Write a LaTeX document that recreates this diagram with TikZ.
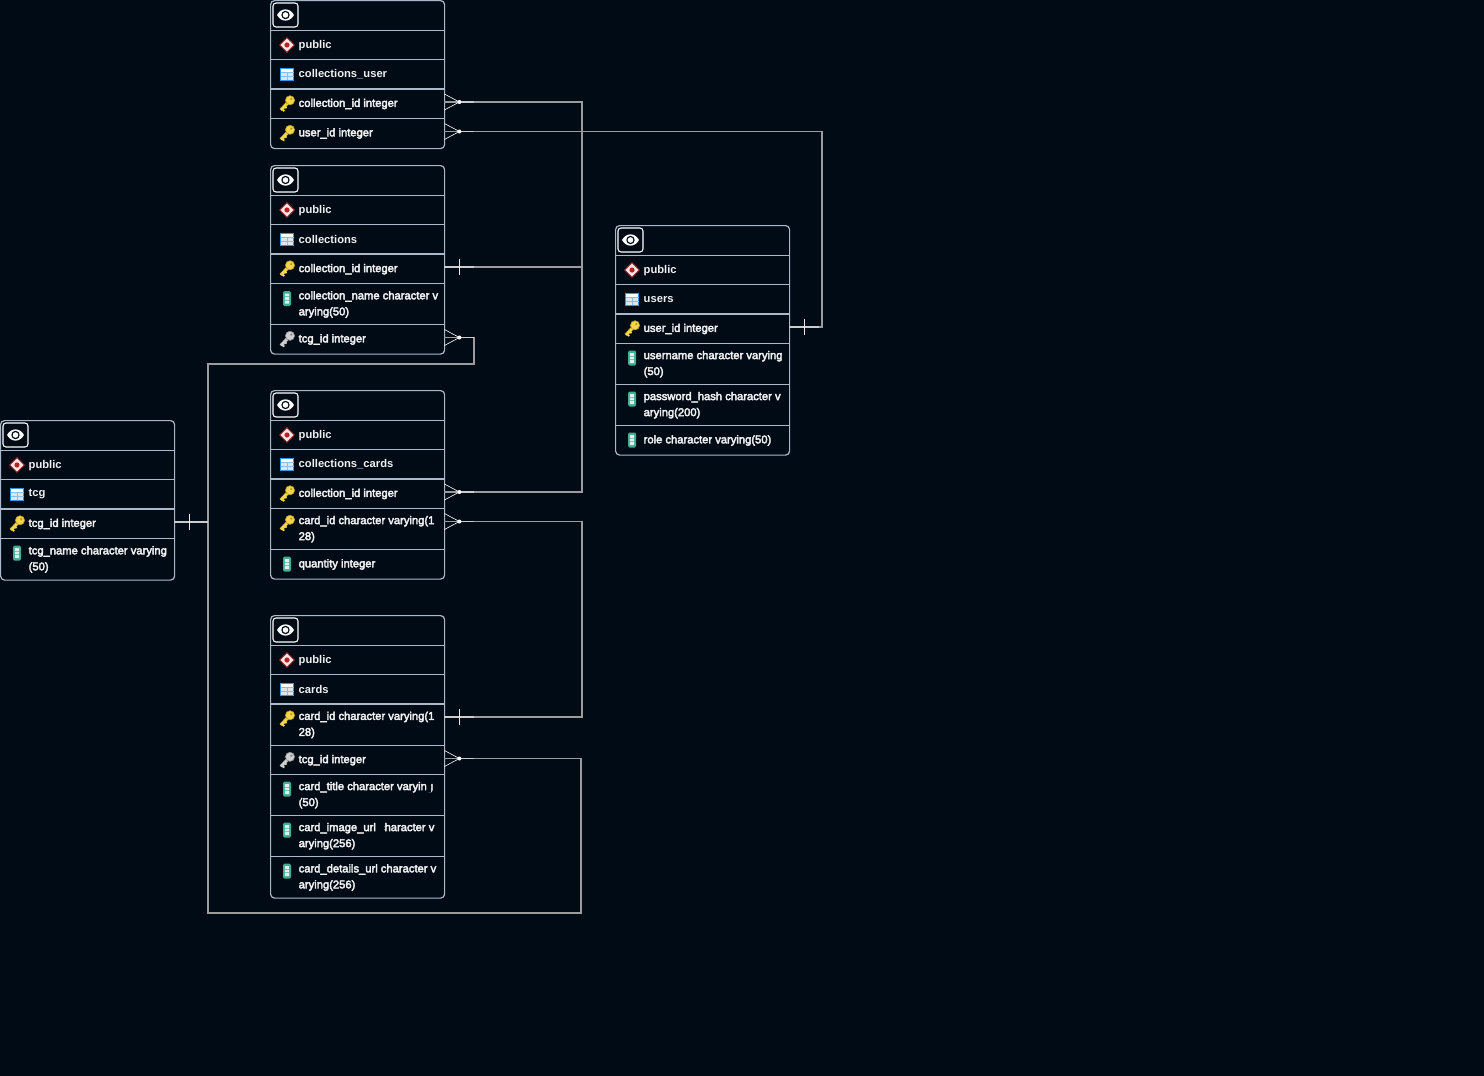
\documentclass[tikz,border=0pt]{standalone}
\usepackage{fontspec}
\setmainfont{Liberation Sans}[FakeBold=3.5]
\newfontfamily\boldish{Liberation Sans Bold}
\definecolor{bgc}{HTML}{010B16}
\definecolor{edgec}{HTML}{A9B9C9}
\definecolor{linec}{HTML}{9C9C9C}
\definecolor{goldc}{HTML}{F2D64B}
\definecolor{goldd}{HTML}{B9971C}
\definecolor{silverc}{HTML}{CFCFCF}
\definecolor{silverd}{HTML}{8A8A8A}
\definecolor{tabblue}{HTML}{2F95EA}
\definecolor{tabcell}{HTML}{DCE6EE}
\definecolor{colteal}{HTML}{3FAE93}
\tikzset{
  x=1pt,y=-1pt,
  rowbox/.style={inner sep=0pt,minimum width=174pt,anchor=north west},
  outerbox/.style={draw=edgec,line width=1.2pt,rounded corners=4pt,inner sep=0pt,anchor=north west,minimum width=174pt},
  sepline/.style={draw=edgec,line width=1pt},
  headline/.style={draw=edgec,line width=2.2pt},
  rowtext/.style={anchor=west,align=left,inner sep=0pt,text=white!94!black,font=\fontsize{11.2pt}{16pt}\selectfont},
  headtext/.style={rowtext,font=\boldish\fontsize{11.2pt}{16pt}\selectfont},
  rel/.style={draw=linec,line width=1.1pt},
  relhalf/.style={draw=gray!40!white,line width=1.6pt},
  tipthin/.style={draw=white,line width=.6pt},
}
% icons, centred on a point
\newcommand\icoeye[1]{\begin{scope}[shift={(#1)}]
  \draw[white,line width=1.1pt,rounded corners=3pt] (-12.5,-12) rectangle (12.5,12);
  \fill[white] (-8.5,0) .. controls (-4.5,-7.5) and (4.5,-7.5) .. (8.5,0) .. controls (4.5,7.5) and (-4.5,7.5) .. (-8.5,0) -- cycle;
  \fill[bgc] (0,0) circle (4.2pt);
  \fill[white] (0,0) circle (2.8pt);
\end{scope}}
\newcommand\icodia[1]{\begin{scope}[shift={(#1)}]
  \fill[fill=white!90!red,draw=red!55!black!80!white,line width=.8pt] (0,-7.2) -- (7.2,0) -- (0,7.2) -- (-7.2,0) -- cycle;
  \fill[red!65!black!85!white] (0,0) circle (2.6pt);
\end{scope}}
\newcommand\icotab[1]{\begin{scope}[shift={(#1)}]
  \fill[tabcell] (-6.5,-6) rectangle (6.5,6);
  \fill[white] (-6.5,-6) rectangle (6.5,-2.2);
  \draw[tabblue,line width=1pt] (-6.5,-6) rectangle (6.5,6);
  \draw[tabblue!60!white,line width=.6pt] (0,-2.2) -- (0,6) (-6.5,-2.2) -- (6.5,-2.2) (-6.5,2) -- (6.5,2);
\end{scope}}
\newcommand\icokey[3]{\begin{scope}[shift={(#1)}]
  \draw[#3,line width=3.6pt] (-6,6.5) -- (2,-2);
  \draw[#2,line width=2.4pt] (-6,6.5) -- (2,-2);
  \draw[#2,line width=1.8pt] (-5,5.5) -- (-2.8,7.6) (-2.4,2.8) -- (-.5,4.7);
  \fill[#2,draw=#3,line width=.6pt] (3,-3.2) circle (4.6pt);
  \fill[#3] (4.2,-4.4) circle (1.3pt);
\end{scope}}
\newcommand\icocol[1]{\begin{scope}[shift={(#1)}]
  \fill[fill=colteal,rounded corners=1.5pt] (-4,-7.5) rectangle (4,7.5);
  \fill[white!88!teal] (-2.2,-5) rectangle (2.2,-2.2) (-2.2,-1.4) rectangle (2.2,1.4) (-2.2,2.2) rectangle (2.2,5);
\end{scope}}
% #1 name, #2 x, #3 top, #4 bottom, #5 icon macro, #6 text
\newcommand\trow[6]{%
  \node[rowbox,minimum height={(#4-#3)*1pt}] (#1) at (#2,#3) {};
  \coordinate (#1c) at ($(#1.north east)+(0,13.5)$);
  #5{$(#1.north west)+(17,15)$}
  \node[rowtext] (#1t) at ($(#1.west)+(28.5,0.5)$) {#6};
}
\newcommand\thead[5]{% #1 name,#2 x,#3 top,#4 schema icon text,#5 table
  \node[rowbox,minimum height=30pt] (#1e) at (#2,#3) {};
  \icoeye{$(#1e.north west)+(15.5,15)$}
  \node[rowbox,minimum height=29pt] (#1s) at (#2,#3+30) {};
  \icodia{$(#1s.north west)+(17,15)$}
  \node[headtext] (#1st) at ($(#1s.west)+(28.5,0.5)$) {#4};
  \node[rowbox,minimum height=29pt] (#1n) at (#2,#3+59) {};
  \icotab{$(#1n.north west)+(17,15)$}
  \node[headtext] (#1nt) at ($(#1n.west)+(28.5,0.4)$) {#5};
  \draw[sepline] (#2,#3+30.5) -- ++(174,0) (#2,#3+59.5) -- ++(174,0);
  \draw[headline] (#2,#3+89) -- ++(174,0);
}
\newcommand\tsep[2]{\draw[sepline] (#1.south west) -- (#1.south east);}
\newcommand\crowmark[1]{%
  \draw[relhalf] ($(#1)+(15,0)$) -- ++(15,0);
  \draw[tipthin] (#1) ++(0,-8) -- ++(15,8) -- ++(-15,8);
  \fill[white] ($(#1)+(15,0)$) circle (2pt);
}
\newcommand\onemark[2]{%
  \draw[relhalf] (#1) -- ++(#2,0);
  \draw[draw=white!85!gray,line width=1.1pt] ($(#1)+(15,-8)$) -- ++(0,16);
}
\newcommand\ikey[1]{\icokey{#1}{goldc}{goldd}}
\newcommand\ifk[1]{\icokey{#1}{silverc}{silverd}}
\usetikzlibrary{calc}
\begin{document}
\begin{tikzpicture}
\path[use as bounding box,fill=bgc] (0,0) rectangle (1484,1076);
\begin{scope}[shift={(-0.5,-0.5)}]
% collections_user
\thead{cu}{270.5}{0.5}{public}{collections\_user}
\trow{cua}{270.5}{89}{118.5}{\ikey}{collection\_id integer}
\trow{cub}{270.5}{118.5}{148}{\ikey}{user\_id integer}
\tsep{cua}{}
\node[outerbox,minimum height=148pt] (cubox) at (270.5,0.5) {};

% collections
\thead{co}{270.5}{165.5}{public}{collections}
\trow{coa}{270.5}{254}{284}{\ikey}{collection\_id integer}
\trow{cob}{270.5}{284}{324.5}{\icocol}{collection\_name character v\\arying(50)}
\trow{coc}{270.5}{324.5}{354}{\ifk}{tcg\_id integer}
\tsep{coa}{}\tsep{cob}{}
\node[outerbox,minimum height=188.5pt] (cobox) at (270.5,165.5) {};

% collections_cards
\thead{cc}{270.5}{390.5}{public}{collections\_cards}
\trow{cca}{270.5}{479}{508.5}{\ikey}{collection\_id integer}
\trow{ccb}{270.5}{508.5}{549.5}{\ikey}{card\_id character varying(1\\28)}
\trow{ccc}{270.5}{549.5}{579}{\icocol}{quantity integer}
\tsep{cca}{}\tsep{ccb}{}
\node[outerbox,minimum height=188.5pt] (ccbox) at (270.5,390.5) {};

% cards
\thead{ca}{270.5}{615.5}{public}{cards}
\trow{caa}{270.5}{704}{745.5}{\ikey}{card\_id character varying(1\\28)}
\trow{cab}{270.5}{745.5}{774.5}{\ifk}{tcg\_id integer}
\trow{cac}{270.5}{774.5}{815.5}{\icocol}{card\_title character varying\\(50)}
\trow{cad}{270.5}{815.5}{856.5}{\icocol}{card\_image\_url character v\\arying(256)}
\trow{cae}{270.5}{856.5}{898}{\icocol}{card\_details\_url character v\\arying(256)}
\tsep{caa}{}\tsep{cab}{}\tsep{cac}{}\tsep{cad}{}
\node[outerbox,minimum height=282.5pt] (cabox) at (270.5,615.5) {};
% gaps that the reference shows in two of the labels
\fill[bgc] (427,780) rectangle (431.5,793) (298,796) rectangle (301,800) (377.5,821) rectangle (384.5,834);

% users
\thead{us}{615.5}{225.5}{public}{users}
\trow{usa}{615.5}{314}{343.5}{\ikey}{user\_id integer}
\trow{usb}{615.5}{343.5}{384.5}{\icocol}{username character varying\\(50)}
\trow{usc}{615.5}{384.5}{425.5}{\icocol}{password\_hash character v\\arying(200)}
\trow{usd}{615.5}{425.5}{455}{\icocol}{role character varying(50)}
\tsep{usa}{}\tsep{usb}{}\tsep{usc}{}
\node[outerbox,minimum height=229.5pt] (usbox) at (615.5,225.5) {};

% tcg
\thead{tc}{0.5}{420.5}{public}{tcg}
\trow{tca}{0.5}{509}{538.5}{\ikey}{tcg\_id integer}
\trow{tcb}{0.5}{538.5}{580}{\icocol}{tcg\_name character varying\\(50)}
\tsep{tca}{}
\node[outerbox,minimum height=159.5pt] (tcbox) at (0.5,420.5) {};

% relationships
\draw[rel] (cuac) -| (582.5,200) |- (coac);
\draw[rel] (ccac) -| (582.5,400) |- (coac);
\draw[rel] (cubc) -| (822.5,200) |- (usac);
\draw[rel] (cocc) -| (474.5,350) |- (208.5,364.5) |- (tcac);
\draw[rel] (ccbc) -| (582.5,600) |- (caac);
\draw[rel] (cabc) -| (581.5,850) |- (208.5,913.5) |- (tcac);
\crowmark{cuac}\crowmark{cubc}\crowmark{cocc}\crowmark{ccac}\crowmark{ccbc}\crowmark{cabc}
\onemark{coac}{30}\onemark{caac}{30}\onemark{usac}{30}\onemark{tcac}{34}
\end{scope}
\end{tikzpicture}
\end{document}
